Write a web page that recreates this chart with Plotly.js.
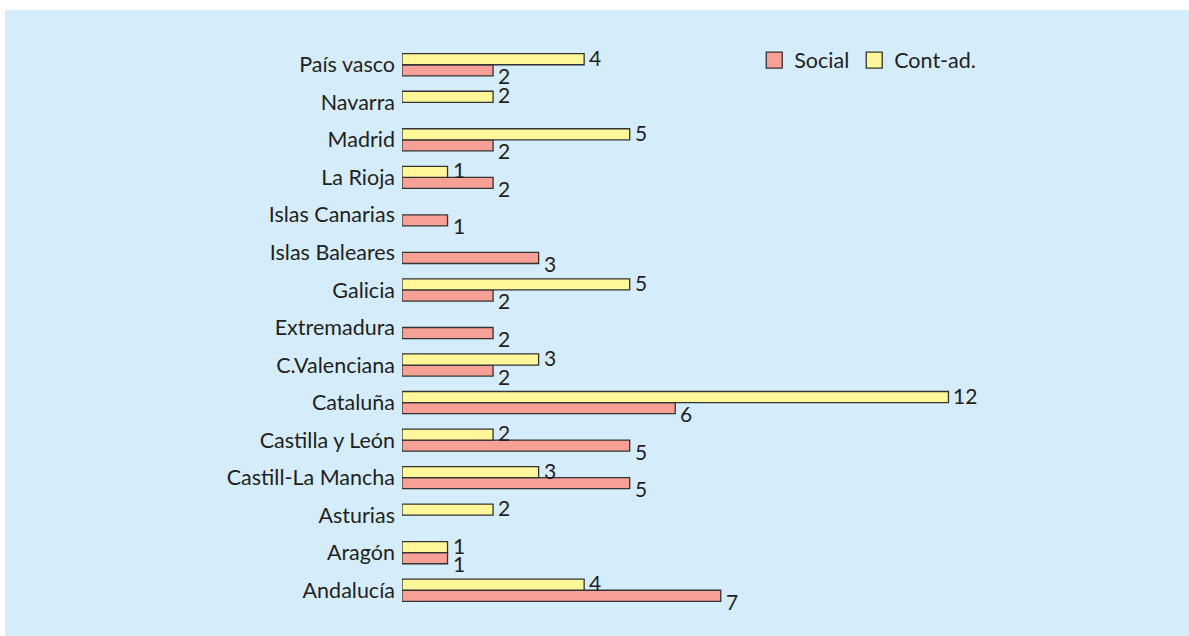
<!DOCTYPE html>
<html>
<head>
<meta charset="utf-8">
<script src="https://cdn.plot.ly/plotly-3.0.1.min.js"></script>
<style>
html,body{margin:0;padding:0;background:#ffffff;width:1189px;height:636px;overflow:hidden;}
#chart{position:absolute;left:5px;top:10px;width:1184px;height:626px;}
</style>
</head>
<body>
<div id="chart"></div>
<script>
// Categories bottom to top
const regions = ["Andalucía","Aragón","Asturias","Castill-La Mancha","Castilla y León","Cataluña","C.Valenciana","Extremadura","Galicia","Islas Baleares","Islas Canarias","La Rioja","Madrid","Navarra","País vasco"];
const social  = [7, 1, null, 5, 5, 6, 2, 2, 2, 3, 1, 2, 2, null, 2];
const contAd  = [4, 1, 2, 3, 2, 12, 3, null, 5, null, null, 1, 5, 2, 4];
const seriesNames = ["Social", "Cont-ad."];
const seriesColors = ["#f7a196", "#fff799"];

const fontFam = "Lato, 'Open Sans', sans-serif";
const txtColor = "#231f20";

function mk(i, vals){
  return {
    type: "bar", orientation: "h", name: seriesNames[i],
    y: regions, x: vals,
    marker: {color: seriesColors[i], line: {color: "#333333", width: 1.3}},
    hoverinfo: "skip",
    showlegend: false
  };
}
function legendDummy(i){
  return {
    type: "scatter", mode: "markers", name: seriesNames[i],
    x: [null], y: [null],
    marker: {symbol: "square", size: 16, color: seriesColors[i], line: {color: "#333333", width: 1.3}},
    hoverinfo: "skip", showlegend: true
  };
}

const data = [mk(0, social), mk(1, contAd), legendDummy(0), legendDummy(1)];

// value labels placed at the end of each bar (data coords), shifted to the bar's slot
const annotations = [];
function addLabels(vals, yshift){
  vals.forEach((v, k) => {
    if (v === null) return;
    annotations.push({
      x: v, y: regions[k], xref: "x", yref: "y",
      text: String(v), showarrow: false,
      xanchor: "left", yanchor: "middle", xshift: 4, yshift: yshift,
      height: 18, valign: "middle", borderpad: 0,
      font: {family: fontFam, size: 21, color: txtColor}
    });
  });
}
addLabels(contAd, 8);
addLabels(social, -10.5);

const layout = {
  width: 1184, height: 626,
  paper_bgcolor: "#d5edfa", plot_bgcolor: "rgba(0,0,0,0)",
  margin: {l: 397, r: 195, t: 36, b: 27},
  barmode: "group", bargap: 0.41, bargroupgap: 0,
  font: {family: fontFam, size: 21.5, color: txtColor},
  xaxis: {range: [0, 13], visible: false, showgrid: false, zeroline: false, fixedrange: true},
  yaxis: {type: "category", categoryorder: "array", categoryarray: regions,
          range: [-0.5, 14.5], showgrid: false, zeroline: false, showline: false,
          ticks: "", ticklabelstandoff: 6, tickfont: {family: fontFam, size: 21.5, color: txtColor}, fixedrange: true},
  annotations: annotations,
  showlegend: true,
  legend: {orientation: "h", x: 0.595, xanchor: "left", y: 0.975, yanchor: "middle",
           bgcolor: "rgba(0,0,0,0)", font: {family: fontFam, size: 21.5, color: txtColor},
           traceorder: "normal", itemsizing: "trace"}
};

Plotly.newPlot("chart", data, layout, {displayModeBar: false, staticPlot: true});
</script>
</body>
</html>
